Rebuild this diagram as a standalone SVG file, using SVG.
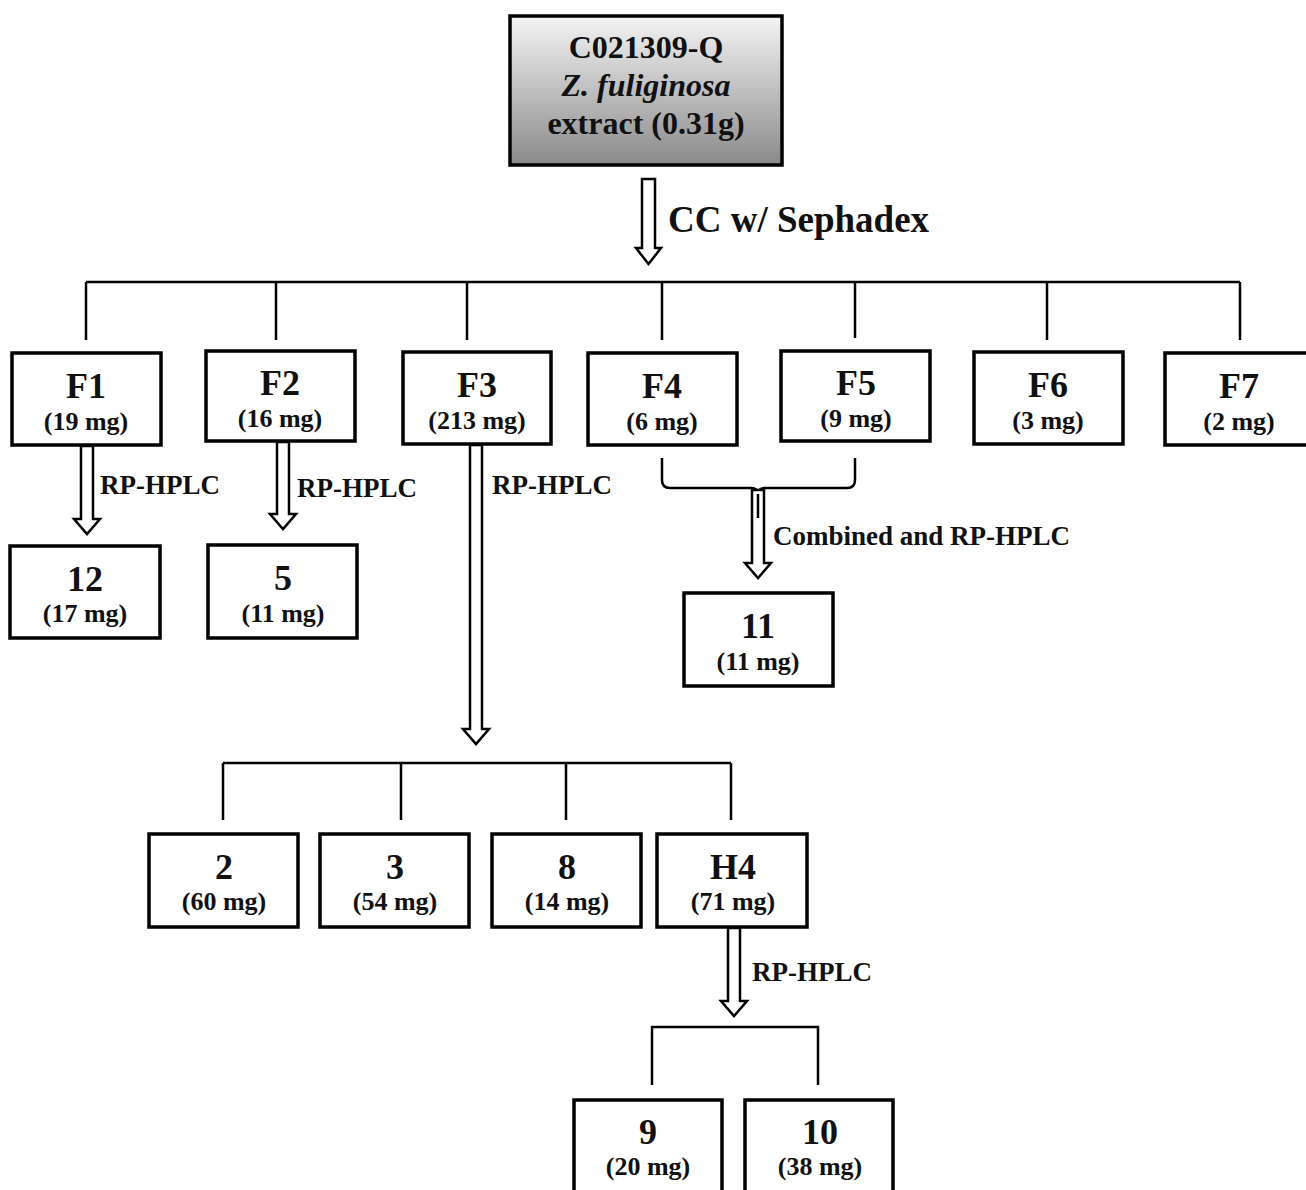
<svg xmlns="http://www.w3.org/2000/svg" width="1306" height="1190" viewBox="0 0 1306 1190">
<defs>
<linearGradient id="g" x1="0" y1="0" x2="0" y2="1">
<stop offset="0" stop-color="#f4f4f4"/>
<stop offset="1" stop-color="#8a8a8a"/>
</linearGradient>
</defs>
<style>
.box{fill:#fff;stroke:#000;stroke-width:3.5}
.t{font-family:"Liberation Serif","Times New Roman",serif;font-weight:bold;fill:#111;text-anchor:middle}
.big{font-size:36px}
.sm{font-size:26px}
.top{font-size:32px}
.lbl{font-family:"Liberation Serif","Times New Roman",serif;font-weight:bold;fill:#111;font-size:27px}
.cc{font-size:37px}
.ln{fill:none;stroke:#000;stroke-width:2.5}
.arr{fill:#fff;stroke:#000;stroke-width:2.5;stroke-linejoin:miter}
</style>
<g id="root">
<rect x="510" y="16" width="272" height="149" fill="url(#g)" stroke="#000" stroke-width="3.5"/>
<text class="t top" x="646" y="58">C021309-Q</text>
<text class="t top" x="646" y="96" font-style="italic">Z. fuliginosa</text>
<text class="t top" x="646" y="134">extract (0.31g)</text>
</g>
<g id="connectors">
<path class="arr" d="M642,179 H655 V248 H661 L648.5,264 L636,248 H642 Z"/>
<text class="lbl cc" x="668" y="232">CC w/ Sephadex</text>
<path class="ln" d="M86,282 H1240 M86,282 V340 M276,282 V340 M467,282 V340 M662,282 V340 M855,282 V338 M1047,282 V340 M1240,282 V340"/>
<path class="arr" d="M81,446 H93 V519 H100 L87,534 L74,519 H81 Z"/>
<text class="lbl" x="100" y="494">RP-HPLC</text>
<path class="arr" d="M277,442 H289 V514 H296 L283,529 L270,514 H277 Z"/>
<text class="lbl" x="297" y="497">RP-HPLC</text>
<path class="arr" d="M470,445 H482 V729 H489 L476,744 L463,729 H470 Z"/>
<text class="lbl" x="492" y="494">RP-HPLC</text>
<path class="ln" d="M662,458 V480 Q662,488 670,488 H751 Q758,488 758,495 Q758,488 765,488 H847 Q855,488 855,480 V458"/>
<path class="arr" d="M752,490 H764 V563 H771 L758,578 L745,563 H752 Z"/>
<path class="ln" d="M758,494 V518"/>
<text class="lbl" x="773" y="545">Combined and RP-HPLC</text>
<path class="ln" d="M223,763 H731 M223,763 V820 M401,763 V820 M566,763 V820 M731,763 V820"/>
<path class="arr" d="M728,928 H740 V1001 H747 L734,1016 L721,1001 H728 Z"/>
<text class="lbl" x="752" y="981">RP-HPLC</text>
<path class="ln" d="M652,1085 V1027 H818 V1085"/>
</g>
<g id="F1"><rect class="box" x="12" y="353" width="149" height="92"/><text class="t big" x="86" y="398">F1</text><text class="t sm" x="86" y="430">(19 mg)</text></g>
<g id="F2"><rect class="box" x="206" y="351" width="149" height="90"/><text class="t big" x="280" y="395">F2</text><text class="t sm" x="280" y="427">(16 mg)</text></g>
<g id="F3"><rect class="box" x="403" y="352" width="148" height="92"/><text class="t big" x="477" y="397">F3</text><text class="t sm" x="477" y="429">(213 mg)</text></g>
<g id="F4"><rect class="box" x="588" y="353" width="149" height="92"/><text class="t big" x="662" y="398">F4</text><text class="t sm" x="662" y="430">(6 mg)</text></g>
<g id="F5"><rect class="box" x="781" y="351" width="149" height="90"/><text class="t big" x="856" y="395">F5</text><text class="t sm" x="856" y="427">(9 mg)</text></g>
<g id="F6"><rect class="box" x="974" y="352" width="149" height="92"/><text class="t big" x="1048" y="397">F6</text><text class="t sm" x="1048" y="429">(3 mg)</text></g>
<g id="F7"><rect class="box" x="1165" y="353" width="145" height="92"/><text class="t big" x="1239" y="398">F7</text><text class="t sm" x="1239" y="430">(2 mg)</text></g>
<g id="n12"><rect class="box" x="10" y="546" width="150" height="92"/><text class="t big" x="85" y="591">12</text><text class="t sm" x="85" y="622">(17 mg)</text></g>
<g id="n5"><rect class="box" x="208" y="545" width="149" height="93"/><text class="t big" x="283" y="590">5</text><text class="t sm" x="283" y="622">(11 mg)</text></g>
<g id="n11"><rect class="box" x="684" y="593" width="149" height="93"/><text class="t big" x="758" y="638">11</text><text class="t sm" x="758" y="670">(11 mg)</text></g>
<g id="n2"><rect class="box" x="149" y="834" width="149" height="93"/><text class="t big" x="224" y="879">2</text><text class="t sm" x="224" y="910">(60 mg)</text></g>
<g id="n3"><rect class="box" x="320" y="834" width="149" height="93"/><text class="t big" x="395" y="879">3</text><text class="t sm" x="395" y="910">(54 mg)</text></g>
<g id="n8"><rect class="box" x="492" y="834" width="149" height="93"/><text class="t big" x="567" y="879">8</text><text class="t sm" x="567" y="910">(14 mg)</text></g>
<g id="H4"><rect class="box" x="657" y="834" width="150" height="93"/><text class="t big" x="733" y="879">H4</text><text class="t sm" x="733" y="910">(71 mg)</text></g>
<g id="n9"><rect class="box" x="574" y="1100" width="148" height="100"/><text class="t big" x="648" y="1144">9</text><text class="t sm" x="648" y="1175">(20 mg)</text></g>
<g id="n10"><rect class="box" x="745" y="1100" width="148" height="100"/><text class="t big" x="820" y="1144">10</text><text class="t sm" x="820" y="1175">(38 mg)</text></g>
</svg>
